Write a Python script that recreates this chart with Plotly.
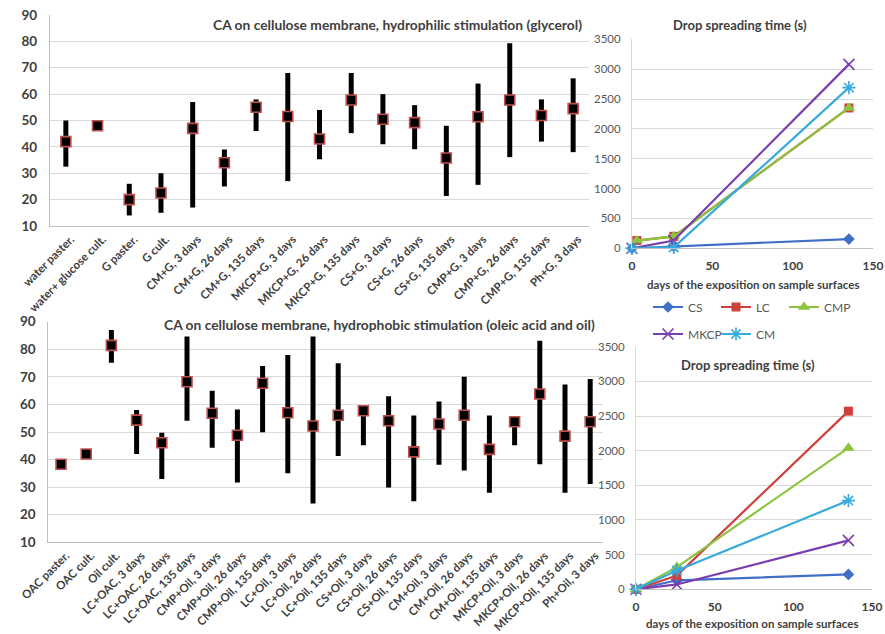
import plotly.graph_objects as go

W, H = 885, 634

# ---------------- data ----------------
glyc_labels = ["water paster.", "water+ glucose cult.", "G paster.", "G cult.",
               "CM+G, 3 days", "CM+G, 26 days", "CM+G, 135 days",
               "MKCP+G, 3 days", "MKCP+G, 26 days", "MKCP+G, 135 days",
               "CS+G, 3 days", "CS+G, 26 days", "CS+G, 135 days",
               "CMP+G, 3 days", "CMP+G, 26 days", "CMP+G, 135 days", "Ph+G, 3 days"]
glyc_mean = [42, 48, 20, 22.5, 47, 34, 55, 51.5, 43, 57.8, 50.5, 49.2, 35.8, 51.4, 57.8, 51.9, 54.5]
glyc_high = [50, 49, 26, 30, 57, 39, 58, 68, 54, 68, 60, 55.8, 48, 64, 79.3, 58, 66]
glyc_low = [32.5, 47, 14, 15, 17, 25, 46, 27, 35.3, 45.2, 41, 39.1, 21.4, 25.6, 36.1, 42, 38]

oil_labels = ["OAC paster.", "OAC cult.", "Oil cult.",
              "LC+OAC, 3 days", "LC+OAC, 26 days", "LC+OAC, 135 days",
              "CMP+Oil, 3 days", "CMP+Oil, 26 days", "CMP+Oil, 135 days",
              "LC+Oil, 3 days", "LC+Oil, 26 days", "LC+Oil, 135 days",
              "CS+Oil, 3 days", "CS+Oil, 26 days", "CS+Oil, 135 days",
              "CM+Oil, 3 days", "CM+Oil, 26 days", "CM+Oil, 135 days",
              "MKCP+Oil, 3 days", "MKCP+Oil, 26 days", "MKCP+Oil, 135 days", "Ph+Oil, 3 days"]
oil_mean = [38.3, 42, 81.4, 54.3, 46.1, 68.2, 56.8, 48.8, 67.7, 57, 52.2, 56.1,
            57.7, 54.1, 42.8, 52.9, 56.1, 43.7, 53.7, 63.8, 48.5, 53.7]
oil_high = [38.8, 43, 87, 58, 49.7, 85.2, 65, 58.2, 73.9, 77.9, 85.5, 74.9,
            59.8, 63, 56, 61.1, 70, 56, 55, 83.1, 67.2, 69.2]
oil_low = [37.8, 41, 75.1, 42, 33, 54.1, 44.3, 31.7, 49.9, 35, 24.1, 41.3,
           45.2, 29.9, 24.9, 38.1, 36, 28, 45.2, 38.3, 28, 31.1]

series_names = ["CS", "LC", "CMP", "MKCP", "CM"]

# drop spreading time, glycerol (days, seconds)
glyc_days = {"CS": [0, 26, 135], "LC": [3, 26, 135], "CMP": [3, 26, 135],
             "MKCP": [0, 26, 135], "CM": [0, 26, 135]}
glyc_time = {"CS": [0, 30, 155], "LC": [130, 200, 2350], "CMP": [130, 200, 2350],
             "MKCP": [0, 130, 3080], "CM": [0, 15, 2690]}

# drop spreading time, oleic acid and oil
oil_days = [0, 26, 135]
oil_time = {"CS": [0, 130, 215], "LC": [0, 200, 2570], "CMP": [0, 320, 2040],
            "MKCP": [0, 70, 705], "CM": [0, 270, 1280]}

y_ticks_ca = [10, 20, 30, 40, 50, 60, 70, 80, 90]
y_ticks_time = [0, 500, 1000, 1500, 2000, 2500, 3000, 3500]
x_ticks_days = [0, 50, 100, 150]

# ---------------- styles ----------------
FONT = "Lato, 'Open Sans', sans-serif"
DARK = "#404040"
GRID = "#d9d9d9"
colors = {"CS": "#3f6fc6", "LC": "#d0403a", "CMP": "#8cc43f", "MKCP": "#7a3db0", "CM": "#38aadb"}
symbols = {"CS": "diamond", "LC": "square", "CMP": "triangle-up",
           "MKCP": "x-thin", "CM": "asterisk"}
sizes = {"CS": 9, "LC": 9, "CMP": 11, "MKCP": 11, "CM": 11}


def fx(p):
    return p / W


def fy(p):
    return 1 - p / H


fig = go.Figure()


def ca_trace(labels, mean, high, low, xa, ya):
    return go.Scatter(
        x=labels, y=mean, mode="markers", xaxis=xa, yaxis=ya, showlegend=False,
        marker=dict(symbol="square", size=10, color="black",
                    line=dict(color="#c0504d", width=1.6)),
        error_y=dict(type="data", symmetric=False,
                     array=[h - m for h, m in zip(high, mean)],
                     arrayminus=[m - l for m, l in zip(mean, low)],
                     color="black", thickness=5, width=0),
        cliponaxis=False)


fig.add_trace(ca_trace(glyc_labels, glyc_mean, glyc_high, glyc_low, "x", "y"))
fig.add_trace(ca_trace(oil_labels, oil_mean, oil_high, oil_low, "x2", "y2"))


def marker_for(name):
    s = symbols[name]
    c = colors[name]
    if s in ("x-thin", "asterisk"):
        return dict(symbol=s, size=sizes[name], color=c, line=dict(color=c, width=1.6))
    return dict(symbol=s, size=sizes[name], color=c, line=dict(color=c, width=0))


for name in series_names:
    leg = "legend" if name in ("CS", "LC", "CMP") else "legend2"
    fig.add_trace(go.Scatter(
        x=glyc_days[name], y=glyc_time[name], mode="lines+markers", name=name,
        line=dict(color=colors[name], width=2.2), marker=marker_for(name),
        xaxis="x3", yaxis="y3", legend=leg, cliponaxis=False))

for name in series_names:
    fig.add_trace(go.Scatter(
        x=oil_days, y=oil_time[name], mode="lines+markers", name=name,
        line=dict(color=colors[name], width=2.2), marker=marker_for(name),
        xaxis="x4", yaxis="y4", showlegend=False, cliponaxis=False))

cat_x = dict(type="category", showgrid=False, showline=True, linecolor="#bfbfbf",
             linewidth=1.3, ticks="", tickangle=-45, zeroline=False,
             ticklabelshift=5, ticklabelstandoff=1,
             tickfont=dict(family=FONT, size=11.5, color=DARK, weight="bold"))
ca_y = dict(range=[10, 90], tickvals=y_ticks_ca, showgrid=True, gridcolor=GRID,
            gridwidth=1.3, showline=True, linecolor="#bfbfbf", linewidth=1.3,
            zeroline=False, ticks="", ticklabelstandoff=9,
            tickfont=dict(family=FONT, size=13.5, color=DARK, weight="bold"))
t_x = dict(range=[0, 150], tickvals=x_ticks_days, showgrid=False, showline=True,
           linecolor="#bfbfbf", linewidth=1.3, zeroline=False, ticks="",
           ticklabelstandoff=6, ticklabeloverflow="allow",
           tickfont=dict(family=FONT, size=12, color=DARK, weight="bold"))
t_y = dict(range=[0, 3500], tickvals=y_ticks_time, showgrid=True, gridcolor=GRID,
           gridwidth=1.3, showline=True, linecolor="#d9d9d9", linewidth=1,
           zeroline=False, ticks="", ticklabelstandoff=8,
           tickfont=dict(family=FONT, size=11.5, color="#595959"))

fig.update_layout(
    width=W, height=H, autosize=False,
    margin=dict(l=0, r=0, t=0, b=0, autoexpand=False),
    paper_bgcolor="white", plot_bgcolor="white",
    font=dict(family=FONT, color=DARK),
    xaxis=dict(cat_x, domain=[fx(50), fx(589)], anchor="y", range=[-0.5, len(glyc_labels) - 0.5]),
    yaxis=dict(ca_y, domain=[fy(226), fy(15)], anchor="x"),
    xaxis2=dict(cat_x, domain=[fx(48.4), fx(602.8)], anchor="y2", range=[-0.5, len(oil_labels) - 0.5]),
    yaxis2=dict(ca_y, domain=[fy(542.3), fy(321.7)], anchor="x2"),
    xaxis3=dict(t_x, domain=[fx(632), fx(873)], anchor="y3"),
    yaxis3=dict(t_y, domain=[fy(248.3), fy(39.3)], anchor="x3"),
    xaxis4=dict(t_x, domain=[fx(636), fx(872)], anchor="y4"),
    yaxis4=dict(t_y, domain=[fy(589.3), fy(346.7)], anchor="x4"),
    legend=dict(orientation="h", x=fx(648), y=fy(307), xanchor="left", yanchor="middle",
                entrywidth=23, entrywidthmode="pixels", itemwidth=30,
                bgcolor="rgba(0,0,0,0)", font=dict(family=FONT, size=12, color="#595959")),
    legend2=dict(orientation="h", x=fx(648), y=fy(334), xanchor="left", yanchor="middle",
                 entrywidth=23, entrywidthmode="pixels", itemwidth=30,
                 bgcolor="rgba(0,0,0,0)", font=dict(family=FONT, size=12, color="#595959")),
    showlegend=True,
)

# white box hiding the 3500 gridline behind the lower right title
fig.add_shape(type="rect", xref="paper", yref="paper",
              x0=fx(648), x1=fx(848), y0=fy(356), y1=fy(340),
              fillcolor="white", line=dict(width=0), layer="above")

ann = [
    ("CA on cellulose membrane, hydrophilic stimulation (glycerol)", 397, 25, 13.8, "white"),
    ("CA on cellulose membrane, hydrophobic stimulation (oleic acid and oil)", 379, 324, 13.8, "white"),
    ("Drop spreading time (s)", 740, 25, 13, None),
    ("Drop spreading time (s)", 748, 365, 13, None),
    ("days of the exposition on sample surfaces", 753, 284, 11.5, None),
    ("days of the exposition on sample surfaces", 752, 623, 11.5, None),
]
for text, x, y, size, bg in ann:
    fig.add_annotation(text=text, x=fx(x), y=fy(y), xref="paper", yref="paper",
                       xanchor="center", yanchor="middle", showarrow=False,
                       bgcolor=bg if bg else "rgba(0,0,0,0)", borderpad=3,
                       font=dict(family=FONT, size=size, color=DARK, weight="bold"))

fig.write_html("out.html", config={"displayModeBar": False},
               post_script="document.body.style.margin='0';document.body.style.overflow='hidden';")
